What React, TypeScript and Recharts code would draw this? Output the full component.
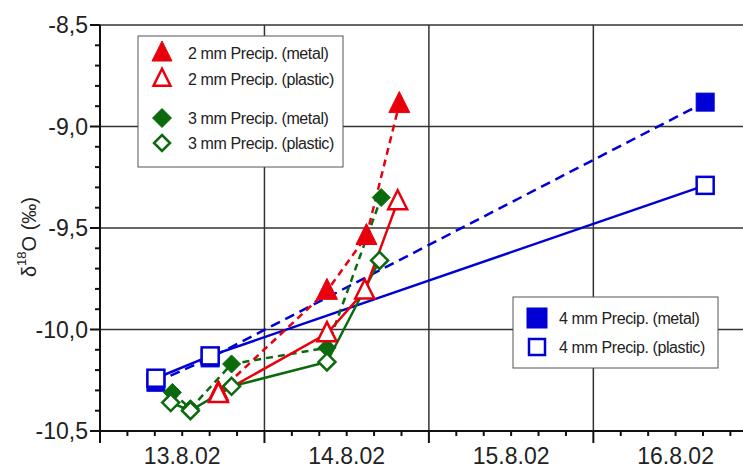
import { LineChart, Line, XAxis, YAxis, ReferenceLine } from 'recharts';

// series values: x = day of August 2002 (fractional), y = δ18O
const precip2Metal = [
  { x: 13.72, y: -10.31 },
  { x: 14.38, y: -9.81 },
  { x: 14.62, y: -9.54 },
  { x: 14.82, y: -8.89 },
];
const precip2Plastic = [
  { x: 13.72, y: -10.32 },
  { x: 14.38, y: -10.02 },
  { x: 14.61, y: -9.81 },
  { x: 14.81, y: -9.37 },
];
const precip3Metal = [
  { x: 13.44, y: -10.31 },
  { x: 13.55, y: -10.39 },
  { x: 13.8, y: -10.17 },
  { x: 14.38, y: -10.09 },
  { x: 14.71, y: -9.35 },
];
const precip3Plastic = [
  { x: 13.43, y: -10.36 },
  { x: 13.55, y: -10.4 },
  { x: 13.8, y: -10.28 },
  { x: 14.38, y: -10.16 },
  { x: 14.7, y: -9.66 },
];
const precip4Metal = [
  { x: 13.34, y: -10.26 },
  { x: 13.67, y: -10.14 },
  { x: 16.68, y: -8.88 },
];
const precip4Plastic = [
  { x: 13.34, y: -10.24 },
  { x: 13.67, y: -10.13 },
  { x: 16.68, y: -9.29 },
];

const days = [13, 14, 15, 16];
const dayLabels = ['13.8.02', '14.8.02', '15.8.02', '16.8.02'];
const yTicks = [
  -10.5, -10.4, -10.3, -10.2, -10.1, -10.0, -9.9, -9.8, -9.7, -9.6, -9.5,
  -9.4, -9.3, -9.2, -9.1, -9.0, -8.9, -8.8, -8.7, -8.6, -8.5,
];
const yGrid = [-10.0, -9.5, -9.0, -8.5];
const xGrid = [14, 15, 16];

const RED = '#e8000d';
const GREEN = '#0b6a0b';
const BLUE = '#0000d6';
const FONT = '"Liberation Sans", Arial, sans-serif';

// x ticks every 4 hours
const xTicks: number[] = [];
days.forEach((d) => [0, 4, 8, 12, 16, 20].forEach((h) => xTicks.push(d + h / 24)));

type Shape = 'triangle' | 'diamond' | 'square';

function Marker({ cx, cy, shape, color, filled, size }: {
  cx: number; cy: number; shape: Shape; color: string; filled: boolean; size: number;
}) {
  const fill = filled ? color : '#fff';
  const sw = filled ? 1 : 2.5;
  if (shape === 'triangle') {
    const pts = `${cx},${cy - size * 0.6} ${cx - size / 2},${cy + size * 0.4} ${cx + size / 2},${cy + size * 0.4}`;
    return <polygon points={pts} fill={fill} stroke={color} strokeWidth={sw} strokeLinejoin="miter" />;
  }
  if (shape === 'diamond') {
    const h = size / 2;
    const pts = `${cx},${cy - h} ${cx + h},${cy} ${cx},${cy + h} ${cx - h},${cy}`;
    return <polygon points={pts} fill={fill} stroke={color} strokeWidth={sw} />;
  }
  const h = size / 2;
  return <rect x={cx - h} y={cy - h} width={size} height={size} fill={fill} stroke={color} strokeWidth={sw} />;
}

const dotFor = (shape: Shape, color: string, filled: boolean, size: number) =>
  (p: any) => (
    <Marker key={`${shape}-${filled}-${p.index}`} cx={p.cx} cy={p.cy} shape={shape} color={color} filled={filled} size={size} />
  );

function YTick({ x, y, payload }: any) {
  const v = payload.value as number;
  const major = Math.abs(v * 2 - Math.round(v * 2)) < 1e-6;
  return (
    <g>
      <line x1={x - (major ? 10 : 5)} x2={x} y1={y} y2={y} stroke="#111" strokeWidth={2} />
      {major && (
        <text x={x - 12} y={y} textAnchor="end" dominantBaseline="central" fontSize={23} fontFamily={FONT} fill="#222">
          {v.toFixed(1).replace('.', ',')}
        </text>
      )}
    </g>
  );
}

function XTick({ x, y, payload }: any) {
  const v = payload.value as number;
  const frac = v - Math.floor(v + 1e-6);
  const major = frac < 1e-6;
  const isNoon = Math.abs(frac - 0.5) < 1e-6;
  const idx = days.indexOf(Math.round(v - frac));
  return (
    <g>
      <line x1={x} x2={x} y1={y} y2={y + (major ? 12 : 5)} stroke="#111" strokeWidth={2} />
      {isNoon && idx >= 0 && (
        <text x={x} y={y + 25} textAnchor="middle" dominantBaseline="central" fontSize={23} fontFamily={FONT} fill="#222">
          {dayLabels[idx]}
        </text>
      )}
    </g>
  );
}

const legendTop = [
  { name: '2 mm Precip. (metal)', shape: 'triangle' as Shape, color: RED, filled: true, size: 20, y: 53 },
  { name: '2 mm Precip. (plastic)', shape: 'triangle' as Shape, color: RED, filled: false, size: 17, y: 79 },
  { name: '3 mm Precip. (metal)', shape: 'diamond' as Shape, color: GREEN, filled: true, size: 19, y: 118 },
  { name: '3 mm Precip. (plastic)', shape: 'diamond' as Shape, color: GREEN, filled: false, size: 16, y: 143 },
];
const legendBottom = [
  { name: '4 mm Precip. (metal)', shape: 'square' as Shape, color: BLUE, filled: true, size: 20, y: 318 },
  { name: '4 mm Precip. (plastic)', shape: 'square' as Shape, color: BLUE, filled: false, size: 16, y: 347 },
];

export default function App() {
  return (
    <div style={{ position: 'absolute', left: 0, top: 0, width: 743, height: 468, background: '#fff' }}>
      <LineChart width={743} height={468} margin={{ top: 25, right: 0, bottom: 0, left: 0 }}>
        <XAxis
          type="number"
          dataKey="x"
          domain={[13, 16.91]}
          ticks={xTicks}
          interval={0}
          height={37}
          tickSize={0}
          tickMargin={0}
          tickLine={false}
          axisLine={{ stroke: '#111', strokeWidth: 2 }}
          tick={<XTick />}
          allowDataOverflow
        />
        <YAxis
          type="number"
          dataKey="y"
          domain={[-10.5, -8.5]}
          ticks={yTicks}
          interval={0}
          width={100}
          tickSize={0}
          tickMargin={0}
          tickLine={false}
          axisLine={{ stroke: '#111', strokeWidth: 2 }}
          tick={<YTick />}
          allowDataOverflow
        />
        {yGrid.map((v) => (
          <ReferenceLine key={`h${v}`} y={v} stroke="#333" strokeWidth={1.5} />
        ))}
        {xGrid.map((v) => (
          <ReferenceLine key={`v${v}`} x={v} stroke="#333" strokeWidth={1.5} />
        ))}
        <Line data={precip4Metal} dataKey="y" stroke={BLUE} strokeWidth={2.5} strokeDasharray="10 6" dot={dotFor('square', BLUE, true, 18)} isAnimationActive={false} />
        <Line data={precip4Plastic} dataKey="y" stroke={BLUE} strokeWidth={2.5} dot={dotFor('square', BLUE, false, 17)} isAnimationActive={false} />
        <Line data={precip3Metal} dataKey="y" stroke={GREEN} strokeWidth={2.5} strokeDasharray="7 5" dot={dotFor('diamond', GREEN, true, 18)} isAnimationActive={false} />
        <Line data={precip3Plastic} dataKey="y" stroke={GREEN} strokeWidth={2.5} dot={dotFor('diamond', GREEN, false, 17)} isAnimationActive={false} />
        <Line data={precip2Metal} dataKey="y" stroke={RED} strokeWidth={2.5} strokeDasharray="7 5" dot={dotFor('triangle', RED, true, 21)} isAnimationActive={false} />
        <Line data={precip2Plastic} dataKey="y" stroke={RED} strokeWidth={2.5} dot={dotFor('triangle', RED, false, 19)} isAnimationActive={false} />
      </LineChart>
      <svg width={743} height={468} style={{ position: 'absolute', left: 0, top: 0, pointerEvents: 'none' }}>
        <text transform="translate(29,237) rotate(-90)" textAnchor="middle" dominantBaseline="central" fontSize={20} fontFamily={FONT} fill="#222">
          <tspan>δ</tspan>
          <tspan dy={-8} fontSize={13}>18</tspan>
          <tspan dy={8}>O (‰)</tspan>
        </text>
        <rect x={138} y={36} width={205} height={131} fill="#fff" stroke="#555" strokeWidth={1} />
        {legendTop.map((l) => (
          <g key={l.name}>
            <Marker cx={162} cy={l.y} shape={l.shape} color={l.color} filled={l.filled} size={l.size} />
            <text x={188} y={l.y} dominantBaseline="central" fontSize={16} fontFamily={FONT} fill="#222" letterSpacing={-0.4}>{l.name}</text>
          </g>
        ))}
        <rect x={513} y={297} width={205} height={71} fill="#fff" stroke="#555" strokeWidth={1} />
        {legendBottom.map((l) => (
          <g key={l.name}>
            <Marker cx={537} cy={l.y} shape={l.shape} color={l.color} filled={l.filled} size={l.size} />
            <text x={559} y={l.y} dominantBaseline="central" fontSize={16} fontFamily={FONT} fill="#222" letterSpacing={-0.4}>{l.name}</text>
          </g>
        ))}
      </svg>
    </div>
  );
}
